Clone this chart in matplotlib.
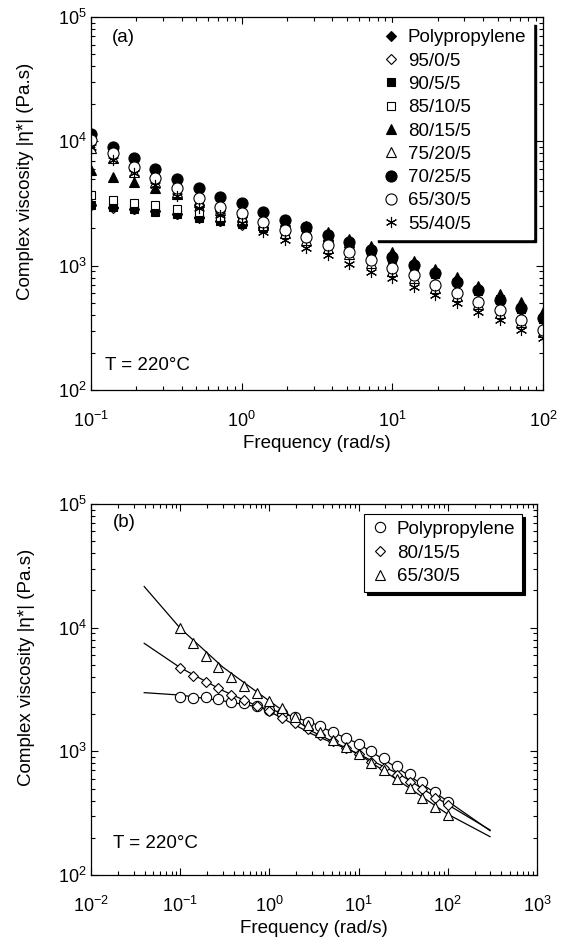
import matplotlib
matplotlib.use('Agg')
import matplotlib.pyplot as plt
from matplotlib.ticker import LogLocator, NullFormatter

plt.rcParams['font.family'] = ['Liberation Sans', 'DejaVu Sans']
plt.rcParams['mathtext.fontset'] = 'custom'
plt.rcParams['mathtext.rm'] = 'Liberation Sans'
plt.rcParams['mathtext.it'] = 'Liberation Sans:italic'
plt.rcParams['font.size'] = 13

# frequency grid (rad/s), same for both panels
freq = [0.1, 0.139, 0.193, 0.268, 0.373, 0.518, 0.720, 1.0, 1.39, 1.93, 2.68,
        3.73, 5.18, 7.20, 10.0, 13.9, 19.3, 26.8, 37.3, 51.8, 72.0, 100.0]

# panel (a) complex viscosity (Pa.s)
pp_a = [3050, 2950, 2880, 2760, 2620, 2450, 2300, 2170, 2050, 1920, 1780,
        1620, 1460, 1300, 1160, 1020, 880, 760, 650, 545, 460, 385]
b95_0_5 = [3050, 2930, 2860, 2730, 2590, 2420, 2270, 2130, 2000, 1870, 1720,
           1570, 1410, 1260, 1120, 980, 850, 730, 620, 520, 440, 370]
b90_5_5 = [3080, 2960, 2840, 2720, 2590, 2400, 2300, 2150, 2010, 1880, 1740,
           1590, 1430, 1280, 1140, 1000, 860, 740, 630, 530, 450, 375]
b85_10_5 = [3700, 3370, 3210, 3080, 2840, 2720, 2480, 2280, 2080, 1920, 1760,
            1600, 1440, 1290, 1150, 1000, 870, 745, 635, 535, 450, 372]
b80_15_5 = [5880, 5190, 4730, 4190, 3750, 3350, 3000, 2700, 2480, 2280, 2100,
            1850, 1640, 1445, 1280, 1100, 940, 806, 689, 591, 507, 421]
b75_20_5 = [8800, 7300, 5700, 4700, 3900, 3250, 2800, 2450, 2120, 1840, 1620,
            1400, 1230, 1060, 910, 800, 665, 570, 490, 420, 350, 292]
b70_25_5 = [11450, 9060, 7290, 5960, 4980, 4190, 3580, 3170, 2720, 2350, 2060,
            1760, 1560, 1330, 1180, 1010, 866, 743, 637, 529, 454, 377]
b65_30_5 = [10200, 8050, 6250, 5030, 4190, 3480, 2980, 2640, 2260, 1930, 1710,
            1470, 1290, 1110, 951, 840, 698, 598, 513, 440, 365, 303]
b55_40_5 = [9060, 7080, 5560, 4450, 3630, 2890, 2550, 2190, 1870, 1610, 1380,
            1220, 1040, 894, 791, 677, 581, 498, 426, 365, 303, 260]

# panel (b) measured data
pp_b = [2770, 2720, 2770, 2670, 2520, 2440, 2330, 2160, 2030, 1880, 1740,
        1600, 1440, 1290, 1150, 1006, 878, 765, 656, 561, 472, 392]
b80_b = [4690, 4090, 3610, 3230, 2860, 2600, 2330, 2100, 1850, 1680, 1510,
         1360, 1210, 1070, 952, 824, 729, 644, 569, 493, 417, 368]
b65_b = [9880, 7570, 5940, 4840, 4020, 3380, 2940, 2570, 2230, 1910, 1630,
         1420, 1240, 1090, 952, 810, 707, 594, 503, 422, 357, 306]

# panel (b) model fit curves
fit_x = [0.0395, 0.1, 0.3, 1.0, 3.0, 10.0, 30.0, 100.0, 298.0]
fit_pp = [2980, 2850, 2560, 2200, 1700, 1150, 700, 395, 228]
fit_80 = [7470, 4750, 3100, 2100, 1380, 950, 640, 370, 231]
fit_65 = [21500, 9900, 4800, 2550, 1450, 950, 560, 310, 204]

labels_a = ['Polypropylene', '95/0/5', '90/5/5', '85/10/5', '80/15/5',
            '75/20/5', '70/25/5', '65/30/5', '55/40/5']
series_a = [pp_a, b95_0_5, b90_5_5, b85_10_5, b80_15_5, b75_20_5,
            b70_25_5, b65_30_5, b55_40_5]
styles_a = [('D', 4.6, 'k'), ('D', 4.6, 'w'), ('s', 5.8, 'k'), ('s', 5.8, 'w'),
            ('^', 7.0, 'k'), ('^', 7.0, 'w'), ('o', 8.0, 'k'), ('o', 8.0, 'w'),
            ((6, 2, 0), 8.0, 'k')]

fig = plt.figure(figsize=(5.61, 9.38), dpi=100)
ax1 = fig.add_axes([0.1622, 0.5842, 0.8057, 0.3977])
ax2 = fig.add_axes([0.1622, 0.0672, 0.7950, 0.3955])


def style_axes(ax):
    ax.set_xscale('log')
    ax.set_yscale('log')
    ax.tick_params(which='both', direction='in', top=True, right=True, width=0.8)
    ax.tick_params(which='major', length=5, labelsize=13)
    ax.tick_params(axis='x', which='major', pad=15)
    ax.tick_params(axis='y', which='major', pad=3)
    ax.tick_params(which='minor', length=3)
    ax.xaxis.set_major_locator(LogLocator(base=10, numticks=10))
    ax.xaxis.set_minor_locator(LogLocator(base=10, subs=range(2, 10), numticks=20))
    ax.xaxis.set_minor_formatter(NullFormatter())
    ax.yaxis.set_minor_formatter(NullFormatter())
    for s in ax.spines.values():
        s.set_linewidth(0.9)
    ax.set_ylim(1e2, 1e5)
    ax.set_xlabel('Frequency (rad/s)', fontsize=13.5, labelpad=3)
    ax.set_ylabel('Complex viscosity |η*| (Pa.s)', fontsize=13.5)
    ax.yaxis.set_label_coords(-0.125, 0.56)


# panel (a)
style_axes(ax1)
ax1.set_xlim(0.1, 100)
for y, lab, (m, ms, fc) in zip(series_a, labels_a, styles_a):
    ax1.plot(freq, y, linestyle='none', marker=m, markersize=ms,
             markerfacecolor=fc, markeredgecolor='k', markeredgewidth=0.8,
             label=lab)
leg1 = ax1.legend(loc='upper right', bbox_to_anchor=(0.978, 0.985),
                  borderaxespad=0, frameon=True, fancybox=False,
                  edgecolor='white', shadow={'color': 'black', 'alpha': 1.0},
                  handlelength=1.0, handletextpad=0.4, labelspacing=0.33,
                  borderpad=0.35, fontsize=13.5)
leg1.set_zorder(5)
ax1.text(0.046, 0.946, '(a)', transform=ax1.transAxes, fontsize=13.5, va='center')
ax1.text(0.031, 0.067, 'T = 220°C', transform=ax1.transAxes, fontsize=13.5,
         va='center')

# panel (b)
style_axes(ax2)
ax2.set_xlim(0.01, 1000)
ax2.plot(fit_x, fit_pp, color='k', linewidth=0.9)
ax2.plot(fit_x, fit_80, color='k', linewidth=0.9)
ax2.plot(fit_x, fit_65, color='k', linewidth=0.9)
ax2.plot(freq, pp_b, linestyle='none', marker='o', markersize=7.4,
         markerfacecolor='w', markeredgecolor='k', markeredgewidth=0.8,
         label='Polypropylene')
ax2.plot(freq, b80_b, linestyle='none', marker='D', markersize=4.8,
         markerfacecolor='w', markeredgecolor='k', markeredgewidth=0.8,
         label='80/15/5')
ax2.plot(freq, b65_b, linestyle='none', marker='^', markersize=7.4,
         markerfacecolor='w', markeredgecolor='k', markeredgewidth=0.8,
         label='65/30/5')
leg2 = ax2.legend(loc='upper right', bbox_to_anchor=(0.966, 0.973),
                  borderaxespad=0, frameon=True, fancybox=False,
                  edgecolor='black', shadow={'color': 'black', 'alpha': 1.0},
                  handlelength=1.0, handletextpad=0.4, labelspacing=0.36,
                  borderpad=0.35, fontsize=13.5)
leg2.get_frame().set_linewidth(0.8)
ax2.text(0.049, 0.949, '(b)', transform=ax2.transAxes, fontsize=13.5, va='center')
ax2.text(0.049, 0.086, 'T = 220°C', transform=ax2.transAxes, fontsize=13.5,
         va='center')

fig.savefig('out.png', dpi=100)
